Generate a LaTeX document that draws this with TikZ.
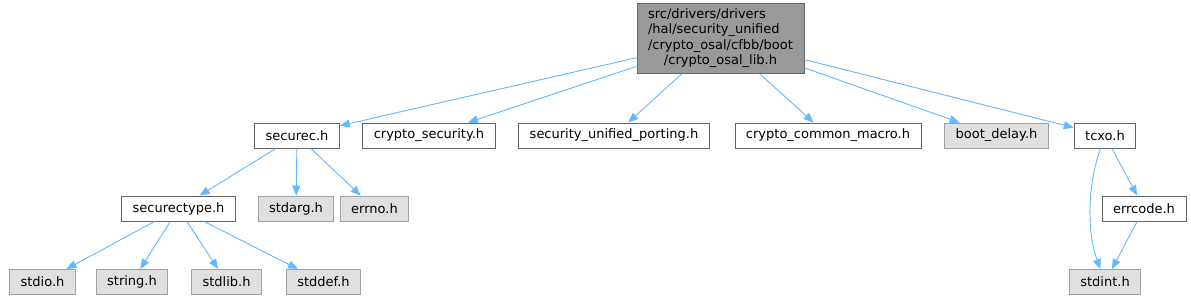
\documentclass[tikz,border=0pt]{standalone}
\usepackage{fontspec}
\setmainfont{DejaVu Sans}
\usetikzlibrary{arrows.meta}
\definecolor{pijlblauw}{HTML}{63B8FF}
\definecolor{randdonker}{HTML}{666666}
\definecolor{randlicht}{HTML}{A0A0A0}
\definecolor{vulgrijs}{HTML}{E0E0E0}
\definecolor{vulroot}{HTML}{999999}
\begin{document}
\begin{tikzpicture}[x=1pt,y=-1pt]

% --- Styles ---
\tikzset{
    kop/.style={
        draw=randdonker,
        line width=0.9pt,
        font=\fontsize{13}{15.5}\selectfont,
        inner xsep=11pt,
        minimum height=25pt
    },
    kopgrijs/.style={
        kop,
        draw=randlicht,
        fill=vulgrijs
    },
    kopwortel/.style={
        kop,
        fill=vulroot,
        inner ysep=4pt
    },
    pijl/.style={
        -{Triangle[length=10pt,width=8pt,fill=pijlblauw]},
        draw=pijlblauw,
        line width=0.9pt
    }
}

\useasboundingbox (0,0) rectangle (1191,300);

% --- Nodes ---
\node[kopwortel] (wortel) at (720.5,38.5)
    {\begin{tabular}{@{}l@{}}src/drivers/drivers\\/hal/security\_unified\\
     /crypto\_osal/cfbb/boot\\\multicolumn{1}{@{}c@{}}{/crypto\_osal\_lib.h}\end{tabular}};

\node[kop]      (securec)  at (297,135.5)  {securec.h};
\node[kop]      (cryptsec) at (429,135.5)  {crypto\_security.h};
\node[kop]      (porting)  at (614,135.5)  {security\_unified\_porting.h};
\node[kop]      (macro)    at (828,135.5)  {crypto\_common\_macro.h};
\node[kopgrijs] (bootdel)  at (996.5,135.5) {boot\_delay.h};
\node[kop]      (tcxo)     at (1105,135.5) {tcxo.h};

\node[kop]      (sectype)  at (178.5,208.5) {securectype.h};
\node[kopgrijs] (stdarg)   at (296,208.5)  {stdarg.h};
\node[kopgrijs] (errno)    at (374.5,208.5) {errno.h};
\node[kop]      (errcode)  at (1144,208.5) {errcode.h};

\node[kopgrijs] (stdio)    at (42.5,282)   {stdio.h};
\node[kopgrijs] (string)   at (132,282)    {string.h};
\node[kopgrijs] (stdlib)   at (226.5,282)  {stdlib.h};
\node[kopgrijs] (stddef)   at (323.5,282)  {stddef.h};
\node[kopgrijs] (stdint)   at (1105,282)   {stdint.h};

% --- Arrows ---
\draw[pijl] (wortel) -- (securec);
\draw[pijl] (wortel) -- (cryptsec);
\draw[pijl] (wortel) -- (porting);
\draw[pijl] (wortel) -- (macro);
\draw[pijl] (wortel) -- (bootdel);
\draw[pijl] (wortel) -- (tcxo);

\draw[pijl] (securec) -- (sectype);
\draw[pijl] (securec) -- (stdarg);
\draw[pijl] (securec) -- (errno);

\draw[pijl] (sectype) -- (stdio);
\draw[pijl] (sectype) -- (string);
\draw[pijl] (sectype) -- (stdlib);
\draw[pijl] (sectype) -- (stddef);

\draw[pijl] (tcxo) .. controls (1086,190) and (1088,235) .. (stdint);
\draw[pijl] (tcxo) -- (errcode);
\draw[pijl] (errcode) -- (stdint);
\end{tikzpicture}
\end{document}
